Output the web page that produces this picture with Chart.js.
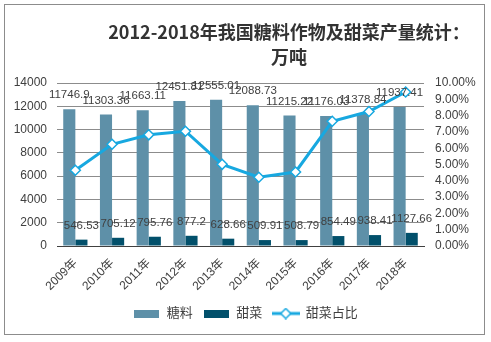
<!DOCTYPE html>
<html>
<head>
<meta charset="utf-8">
<script src="https://cdn.jsdelivr.net/npm/chart.js@4.4.1/dist/chart.umd.min.js"></script>
<style>
  html, body { margin: 0; padding: 0; background: #fff; }
  #wrap { position: relative; width: 491px; height: 342px; }
  #frame { position: absolute; left: 4px; top: 4px; width: 479px; height: 329px; border: 1px solid #8c8c8c; pointer-events: none; }
  #title {
    position: absolute; left: 106px; width: 366px; top: 19px;
    text-align: center; font: bold 18px/25px "Noto Sans CJK SC", sans-serif; color: #333;
  }
  canvas { position: absolute; left: 0; top: 0; }
</style>
</head>
<body>
<div id="wrap">
  <canvas id="myChart" width="491" height="342"></canvas>
  <div id="frame"></div>
  <div id="title">2012-2018年我国糖料作物及甜菜产量统计：<br>万吨</div>
</div>
<script>
// DATA
const years = ['2009年', '2010年', '2011年', '2012年', '2013年', '2014年', '2015年', '2016年', '2017年', '2018年'];
const sugarOutput = [11746.9, 11303.36, 11663.11, 12451.81, 12555.01, 12088.73, 11215.22, 11176.03, 11378.84, 11937.41];
const beetOutput = [546.53, 705.12, 795.76, 877.2, 628.66, 509.91, 508.79, 854.49, 938.41, 1127.66];
const beetShare = [0.0465, 0.0624, 0.0682, 0.0704, 0.0501, 0.0422, 0.0454, 0.0765, 0.0825, 0.0945];

const SUGAR = '#5e90a8';
const BEET = '#02506b';
const LINE = '#17a8e0';
const FONT = "'Liberation Sans', 'Noto Sans CJK SC', sans-serif";

// legend swatches
function swatch(color) {
  const c = document.createElement('canvas');
  c.width = 25; c.height = 8;
  const g = c.getContext('2d');
  g.fillStyle = color;
  g.fillRect(0, 0, 25, 8);
  return c;
}
function lineSwatch() {
  const c = document.createElement('canvas');
  c.width = 28; c.height = 12;
  const g = c.getContext('2d');
  g.strokeStyle = LINE; g.lineWidth = 3;
  g.beginPath(); g.moveTo(0, 6); g.lineTo(28, 6); g.stroke();
  g.fillStyle = '#fff'; g.lineWidth = 1.5;
  g.beginPath(); g.moveTo(14, 1); g.lineTo(19, 6); g.lineTo(14, 11); g.lineTo(9, 6); g.closePath();
  g.fill(); g.stroke();
  return c;
}

// value labels over bars
const barLabels = {
  id: 'barLabels',
  afterDatasetsDraw(chart) {
    const ctx = chart.ctx;
    ctx.save();
    ctx.font = '11.5px ' + FONT;
    ctx.fillStyle = '#404040';
    ctx.textAlign = 'center';
    ctx.textBaseline = 'middle';
    chart.data.datasets.forEach((ds, i) => {
      if (ds.type !== 'bar') return;
      chart.getDatasetMeta(i).data.forEach((bar, j) => {
        ctx.fillText(String(ds.data[j]), bar.x, bar.y - 14);
      });
    });
    ctx.restore();
  }
};

const ctx = document.getElementById('myChart');

new Chart(ctx, {
  data: {
    labels: years,
    datasets: [
      {
        type: 'line',
        label: '甜菜占比',
        data: beetShare,
        yAxisID: 'y1',
        borderColor: LINE,
        borderWidth: 3,
        pointStyle: 'rectRot',
        pointRadius: 5,
        pointBackgroundColor: '#fff',
        pointBorderColor: LINE,
        pointBorderWidth: 1.5,
        tension: 0
      },
      {
        type: 'bar',
        label: '糖料',
        data: sugarOutput,
        yAxisID: 'y',
        backgroundColor: SUGAR,
        barPercentage: 1,
        categoryPercentage: 0.66
      },
      {
        type: 'bar',
        label: '甜菜',
        data: beetOutput,
        yAxisID: 'y',
        backgroundColor: BEET,
        barPercentage: 1,
        categoryPercentage: 0.66
      }
    ]
  },
  options: {
    responsive: false,
    animation: false,
    layout: { padding: { top: 83, left: 0, right: 0, bottom: 12 } },
    plugins: {
      tooltip: { enabled: false },
      legend: {
        position: 'bottom',
        labels: {
          font: { size: 13, family: FONT },
          color: '#404040',
          usePointStyle: true,
          pointStyleWidth: 27,
          boxHeight: 10,
          padding: 10,
          generateLabels(chart) {
            const order = [1, 2, 0];
            const styles = [lineSwatch(), swatch(SUGAR), swatch(BEET)];
            return order.map(i => ({
              text: chart.data.datasets[i].label,
              datasetIndex: i,
              pointStyle: styles[i],
              fontColor: '#404040',
              hidden: false,
              lineWidth: 0,
              strokeStyle: 'transparent',
              fillStyle: 'transparent'
            }));
          }
        }
      }
    },
    scales: {
      x: {
        grid: { display: false },
        border: { color: '#404040' },
        ticks: {
          color: '#404040',
          font: { size: 12, family: FONT },
          maxRotation: 45,
          minRotation: 45,
          padding: 2
        },
        afterFit(scale) { scale.height = 51; }
      },
      y: {
        position: 'left',
        min: 0,
        max: 14000,
        ticks: {
          stepSize: 2000,
          autoSkip: false,
          color: '#404040',
          font: { size: 12, family: FONT },
          padding: 10,
          callback: v => String(v)
        },
        grid: { color: '#8c8c8c', drawTicks: false },
        border: { display: false },
        afterFit(scale) { scale.width = 57; }
      },
      y1: {
        position: 'right',
        min: 0,
        max: 0.1,
        ticks: {
          stepSize: 0.01,
          autoSkip: false,
          color: '#404040',
          font: { size: 12, family: FONT },
          padding: 11,
          callback: v => (v * 100).toFixed(2) + '%'
        },
        grid: { display: false, drawTicks: false },
        border: { display: false },
        afterFit(scale) { scale.width = 67; }
      }
    }
  },
  plugins: [barLabels]
});
</script>
</body>
</html>
